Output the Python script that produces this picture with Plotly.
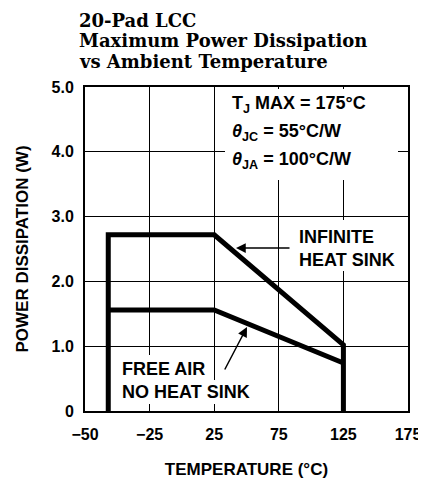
import plotly.graph_objects as go

# ---- data ----
x_tick_vals = [-75, -25, 25, 75, 125, 175]
x_tick_text = ["\u221250", "\u221225", "25", "75", "125", "175"]
y_tick_vals = [0, 1, 2, 3, 4, 5]
y_tick_text = ["0", "1.0", "2.0", "3.0", "4.0", "5.0"]

inf_sink_x = [-57, -57, 25, 125, 125]
inf_sink_y = [0, 2.72, 2.72, 1.02, 0]
free_air_x = [-57, 25, 125]
free_air_y = [1.56, 1.56, 0.74]

title_lines = ["20-Pad LCC", "Maximum Power Dissipation", "vs Ambient Temperature"]

# ---- layout geometry (page body has an 8px margin) ----
OFF = 8
SW, SH = 426, 479                 # screen size
PL, PR, PT, PB = 85, 408, 87, 411  # plot box in screen pixels
W, H = SW - OFF, SH - OFF
XR = [-75, 175]
YR = [0, 5]
pw, ph = PR - PL, PB - PT


def px2x(px):
    return XR[0] + (px - PL) / pw * (XR[1] - XR[0])


def px2y(py):
    return YR[0] + (PB - py) / ph * (YR[1] - YR[0])


SANS = "Liberation Sans, Arial, sans-serif"
SERIF = "DejaVu Serif, serif"

fig = go.Figure()
fig.add_trace(go.Scatter(x=inf_sink_x, y=inf_sink_y, mode="lines",
                         line=dict(color="black", width=5), hoverinfo="skip",
                         showlegend=False))
fig.add_trace(go.Scatter(x=free_air_x, y=free_air_y, mode="lines",
                         line=dict(color="black", width=5), hoverinfo="skip",
                         showlegend=False))

# white boxes behind the text (hide the grid)
for (x0, x1, y0, y1) in [(225, 398, 89, 180), (295, 401, 220, 271),
                         (118, 209, 355, 380), (118, 261, 380, 404)]:
    fig.add_shape(type="rect", xref="x", yref="y",
                  x0=px2x(x0), x1=px2x(x1), y0=px2y(y1), y1=px2y(y0),
                  fillcolor="white", line=dict(width=0), layer="above")

ann_font = dict(family=SANS, size=18, color="black", weight="bold")
anns = []
# title
for py, txt in zip([20.5, 40.5, 61.5], title_lines):
    anns.append(dict(xref="paper", yref="paper", x=(77 - PL) / pw,
                     y=(PB - py) / ph, xanchor="left", yanchor="middle",
                     align="left", showarrow=False, text="<b>" + txt + "</b>",
                     font=dict(family=SERIF, size=18, color="black")))
# constants box
for py, txt in [(104, "T<sub>J</sub> MAX = 175\u00b0C"),
                (132, "<i>\u03b8</i><sub>JC</sub> = 55\u00b0C/W"),
                (160, "<i>\u03b8</i><sub>JA</sub> = 100\u00b0C/W")]:
    anns.append(dict(xref="x", yref="y", x=px2x(230), y=px2y(py), xanchor="left",
                     yanchor="middle", align="left", showarrow=False, text=txt,
                     font=ann_font))
# curve labels
anns.append(dict(xref="x", yref="y", x=px2x(297), y=px2y(248), xanchor="left",
                 yanchor="middle", align="left", showarrow=False,
                 text="INFINITE<br>HEAT SINK", font=ann_font))
anns.append(dict(xref="x", yref="y", x=px2x(120), y=px2y(380), xanchor="left",
                 yanchor="middle", align="left", showarrow=False,
                 text="FREE AIR<br>NO HEAT SINK", font=ann_font))
# arrows
anns.append(dict(xref="x", yref="y", axref="x", ayref="y",
                 x=px2x(236), y=px2y(248), ax=px2x(291), ay=px2y(248),
                 text="", showarrow=True, arrowhead=2, arrowsize=1.3,
                 arrowwidth=1.5, arrowcolor="black", standoff=0, startstandoff=0))
anns.append(dict(xref="x", yref="y", axref="x", ayref="y",
                 x=px2x(247), y=px2y(327), ax=px2x(224), ay=px2y(371),
                 text="", showarrow=True, arrowhead=2, arrowsize=1.3,
                 arrowwidth=1.5, arrowcolor="black", standoff=0, startstandoff=0))

fig.update_layout(
    width=W, height=H,
    margin=dict(l=PL - OFF, r=SW - PR, t=PT - OFF, b=SH - PB, autoexpand=False),
    paper_bgcolor="white", plot_bgcolor="white",
    annotations=anns,
    xaxis=dict(range=XR, tickvals=x_tick_vals, ticktext=x_tick_text,
               automargin=False,
               showgrid=True, gridcolor="black", gridwidth=1, zeroline=False,
               showline=True, linecolor="black", linewidth=2, mirror=True,
               ticks="", ticklabelstandoff=8,
               tickfont=dict(family=SANS, size=16, color="black", weight="bold"),
               title=dict(text="TEMPERATURE (\u00b0C)", standoff=21,
                          font=dict(family=SANS, size=17, color="black",
                                    weight="bold"))),
    yaxis=dict(range=YR, tickvals=y_tick_vals, ticktext=y_tick_text,
               automargin=False,
               showgrid=True, gridcolor="black", gridwidth=1, zeroline=False,
               showline=True, linecolor="black", linewidth=2, mirror=True,
               ticks="", ticklabelstandoff=6,
               tickfont=dict(family=SANS, size=16, color="black", weight="bold"),
               title=dict(text="POWER DISSIPATION (W)", standoff=19,
                          font=dict(family=SANS, size=17, color="black",
                                    weight="bold"))),
)

fig.write_html("out.html")
